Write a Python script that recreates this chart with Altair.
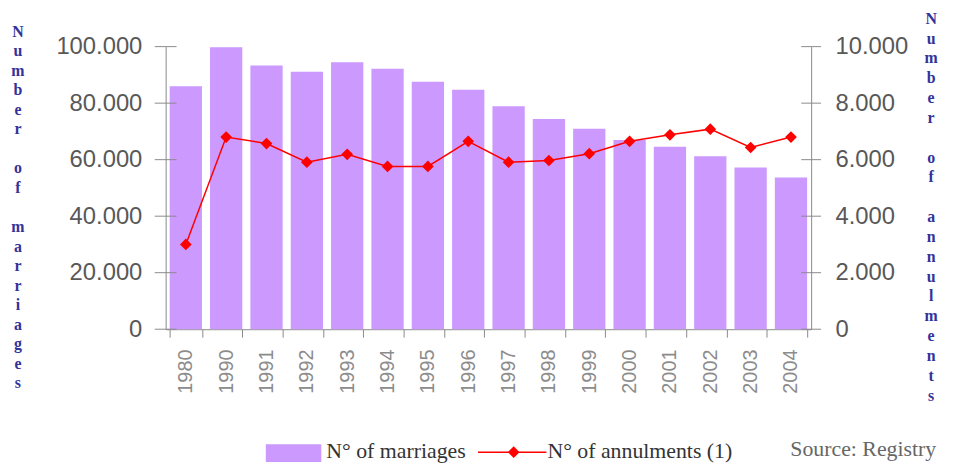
import altair as alt
import pandas as pd

years = ["1980", "1990", "1991", "1992", "1993", "1994", "1995", "1996",
         "1997", "1998", "1999", "2000", "2001", "2002", "2003", "2004"]
marriages = [86000, 99800, 93300, 91100, 94500, 92200, 87600, 84700,
             78900, 74400, 70900, 67000, 64600, 61200, 57200, 53700]
annulments = [3000, 6800, 6570, 5910, 6190, 5760, 5760, 6650,
              5910, 5970, 6210, 6650, 6880, 7080, 6430, 6800]

left_ticks = [0, 20000, 40000, 60000, 80000, 100000]
right_ticks = [0, 2000, 4000, 6000, 8000, 10000]

left_title = "Number of marriages"
right_title = "Number of annulments"
legend_labels = ["N° of marriages", "N° of annulments (1)"]
source_text = "Source: Registry"

BAR = "#cc99ff"
RED = "#ff0000"
AX = "#8a8a8a"
NAVY = "#333399"
LAB = "#585858"

df = pd.DataFrame({"year": years, "marriages": marriages, "annulments": annulments})
lt = pd.DataFrame({"v": left_ticks})
rt = pd.DataFrame({"v": right_ticks})
one = alt.Data(values=[{}])

fmt = "replace(format(datum.value, ','), ',', '.')"

x = alt.X("year:N", sort=years,
          scale=alt.Scale(paddingInner=0.2, paddingOuter=0.1),
          axis=alt.Axis(title=None, labelAngle=-90, labelFont="Liberation Sans",
                        labelFontSize=20, labelColor="#8c8c8c", domainColor=AX,
                        tickColor=AX, tickSize=8, labelPadding=12, tickBand="extent"))

lscale = alt.Scale(domain=[0, 100000])
rscale = alt.Scale(domain=[0, 10000])

bars = alt.Chart(df).mark_bar(color=BAR).encode(
    x=x,
    y=alt.Y("marriages:Q", scale=lscale,
            axis=alt.Axis(title=None, values=left_ticks, labelExpr=fmt, grid=False,
                          labelFont="Liberation Sans", labelFontSize=24, labelColor=LAB,
                          domainColor=AX, ticks=False, labelPadding=24))
)

lticks = alt.Chart(lt).mark_tick(orient="horizontal", size=22, thickness=1, color=AX,
                                 opacity=1).encode(
    y=alt.Y("v:Q", scale=lscale, axis=None), x=alt.value(0))

line = alt.Chart(df).mark_line(
    color=RED, strokeWidth=1.5,
    point=alt.OverlayMarkDef(shape="diamond", size=140, filled=True, color=RED)
).encode(
    x=x,
    y=alt.Y("annulments:Q", scale=rscale,
            axis=alt.Axis(title=None, orient="right", values=right_ticks, labelExpr=fmt,
                          grid=False, labelFont="Liberation Sans", labelFontSize=24,
                          labelColor=LAB, domainColor=AX, ticks=False, labelPadding=24))
)

rticks = alt.Chart(rt).mark_tick(orient="horizontal", size=20, thickness=1, color=AX,
                                 opacity=1).encode(
    y=alt.Y("v:Q", scale=rscale, axis=None), x=alt.value(651))


def stacked_title(text, x0, y0, lh, align):
    """One stacked-letter text mark per word; a blank line between words."""
    layers = []
    idx = 0
    for word in text.split(" "):
        layers.append(alt.Chart(one).mark_text(
            text=list(word), font="Liberation Serif", fontWeight="bold", fontSize=16,
            color=NAVY, lineHeight=lh, align=align, baseline="top"
        ).encode(x=alt.value(x0), y=alt.value(y0 + idx * lh)))
        idx += len(word) + 1
    return layers


ltitle = stacked_title(left_title, -149, -23, 19.7, "center")
rtitle = stacked_title(right_title, 772, -36, 20, "center")

leg_rect = alt.Chart(one).mark_rect(color=BAR).encode(
    x=alt.value(101), x2=alt.value(157), y=alt.value(401), y2=alt.value(419))
leg_rule = alt.Chart(one).mark_rule(color=RED, strokeWidth=1.5).encode(
    x=alt.value(315), x2=alt.value(384), y=alt.value(409))
leg_pt = alt.Chart(one).mark_point(shape="diamond", size=140, filled=True, color=RED,
                                   opacity=1).encode(x=alt.value(351), y=alt.value(409))
leg_t1 = alt.Chart(one).mark_text(text=legend_labels[0], font="Liberation Serif",
                                  fontSize=22, color="#333333", align="left",
                                  baseline="alphabetic").encode(x=alt.value(162), y=alt.value(415))
leg_t2 = alt.Chart(one).mark_text(text=legend_labels[1], font="Liberation Serif",
                                  fontSize=22, color="#333333", align="left",
                                  baseline="alphabetic").encode(x=alt.value(385), y=alt.value(415))
src = alt.Chart(one).mark_text(text=source_text, font="Liberation Serif", fontSize=22,
                               color="#666666", align="left",
                               baseline="alphabetic").encode(x=alt.value(630), y=alt.value(413))

chart = alt.layer(bars, lticks, line, rticks, *ltitle, *rtitle, leg_rect, leg_rule, leg_pt,
                  leg_t1, leg_t2, src
                  ).resolve_scale(y="independent").properties(
    width=651, height=285,
    autosize=alt.AutoSizeParams(type="none"),
    padding={"left": 159, "top": 37, "right": 136, "bottom": 136},
    background="white"
).configure_view(stroke=None)

chart.save("out.html", embed_options={"renderer": "svg", "actions": False})
